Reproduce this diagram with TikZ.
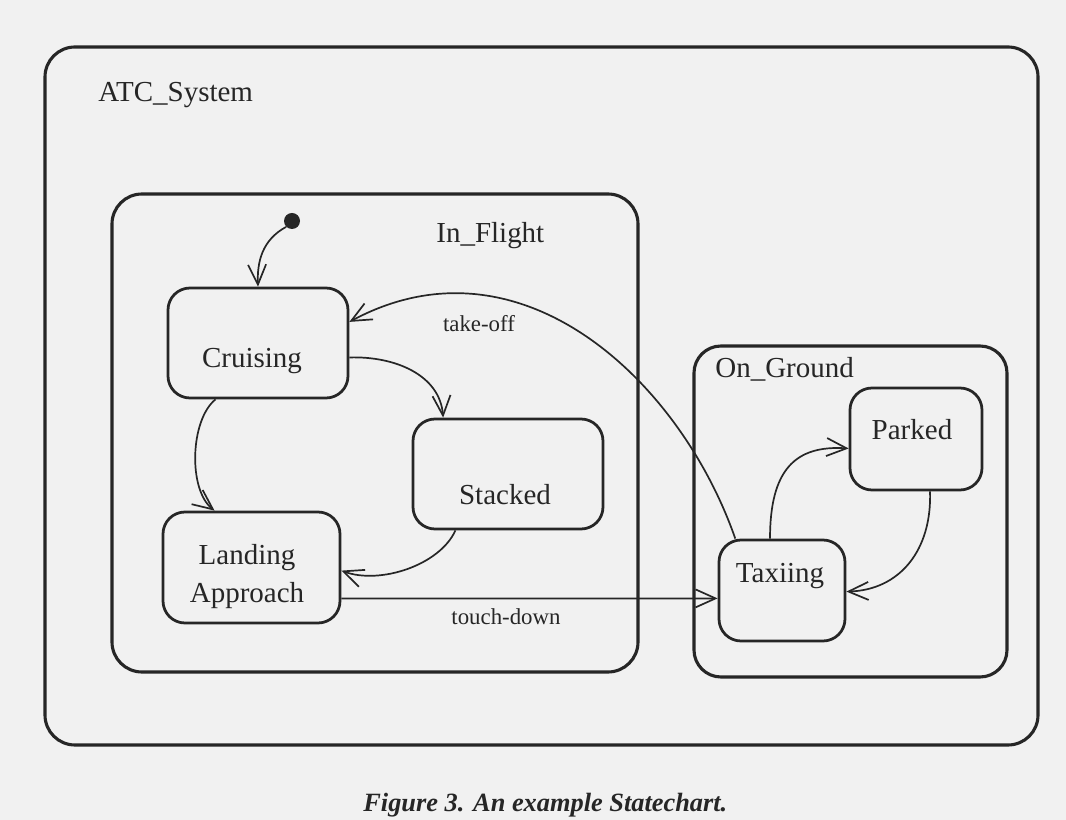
\documentclass[tikz,border=0pt]{standalone}
\usepackage{fontspec}
\setmainfont{Liberation Serif}
\usetikzlibrary{arrows.meta}
\definecolor{scanInk}{RGB}{38,38,38}
\definecolor{scanPaper}{RGB}{241,241,241}

\tikzset{
  region/.style={draw=scanInk, line width=0.62mm, rounded corners=6mm, inner sep=0pt},
  stbox/.style={draw=scanInk, line width=0.55mm, rounded corners=4.4mm, inner sep=0pt},
  stname/.style={text=scanInk, font=\fontsize{16.5}{21.6}\selectfont, inner sep=0pt},
  evlbl/.style={text=scanInk, font=\fontsize{13}{15}\selectfont, inner sep=0pt},
  trans/.style={draw=scanInk, line width=0.34mm, -{Straight Barb[length=4mm,width=3.6mm]}},
}

\begin{document}
\begin{tikzpicture}[x=0.2mm, y=-0.2mm]
\useasboundingbox[fill=scanPaper] (0,0) rectangle (1066,820);

% superstates
\node[region, minimum width=198.6mm, minimum height=139.6mm] (atc) at (541.5,396) {};
\node[region, minimum width=105.2mm, minimum height=95.6mm] (flight) at (375,433) {};
\node[region, rounded corners=5.4mm, minimum width=62.6mm, minimum height=66.2mm] (ground) at (850.5,511.5) {};
\node[stname, anchor=base west] (atclbl) at (98,102) {ATC\_System};
\node[stname, anchor=base west] (flightlbl) at (436,243) {In\_Flight};
\node[stname, anchor=base west] (groundlbl) at (715,378) {On\_Ground};

% states
\node[stbox, minimum width=36mm, minimum height=22mm] (cruising) at (258,343) {};
\node[stbox, minimum width=38mm, minimum height=22mm] (stacked) at (508,474) {};
\node[stbox, minimum width=35.4mm, minimum height=22.2mm] (landing) at (251.5,567.5) {};
\node[stbox, minimum width=26.4mm, minimum height=20.4mm] (parked) at (916,439) {};
\node[stbox, minimum width=25.2mm, minimum height=20.2mm] (taxiing) at (782,590.5) {};
\node[stname, anchor=base] (cruisinglbl) at (252,368) {Cruising};
\node[stname, anchor=base] (stackedlbl) at (505,505) {Stacked};
\node[stname, align=center] (landinglbl) at (247,577) {Landing\\Approach};
\node[stname, anchor=base] (parkedlbl) at (912,440) {Parked};
\node[stname, anchor=base] (taxiinglbl) at (780,583) {Taxiing};

\node[circle, fill=scanInk, minimum size=3.2mm, inner sep=0pt] (init) at (292,221) {};

% transitions
\draw[trans] (init.south west) .. controls (262,240) and (257,262) .. (cruising.north);
\draw[trans] (cruising.-9.5) .. controls (395,356) and (440,375) .. (stacked.139);
\draw[trans] (cruising.233) .. controls (190,420) and (188,490) .. (landing.123);
\draw[trans] (stacked.227) .. controls (440,565) and (380,585) .. (landing.-2);
\draw[trans] (taxiing.132) .. controls (680,380) and (520,230) .. (cruising.13);
\draw[trans] (landing.-19) -- (taxiing.187);
\draw[trans] (taxiing.103) .. controls (770,470) and (795,445) .. (parked.188);
\draw[trans] (parked.-75) .. controls (932,550) and (900,590) .. (taxiing.-1);
\node[evlbl, anchor=base] (takeoff) at (479,332) {take-off};
\node[evlbl, anchor=base] (touchdown) at (506,625) {touch-down};

\node[text=scanInk, font=\fontsize{15}{18}\selectfont\bfseries\itshape, anchor=base west, inner sep=0pt] (caption) at (363,812) {Figure 3. An example Statechart.};
\end{tikzpicture}
\end{document}
